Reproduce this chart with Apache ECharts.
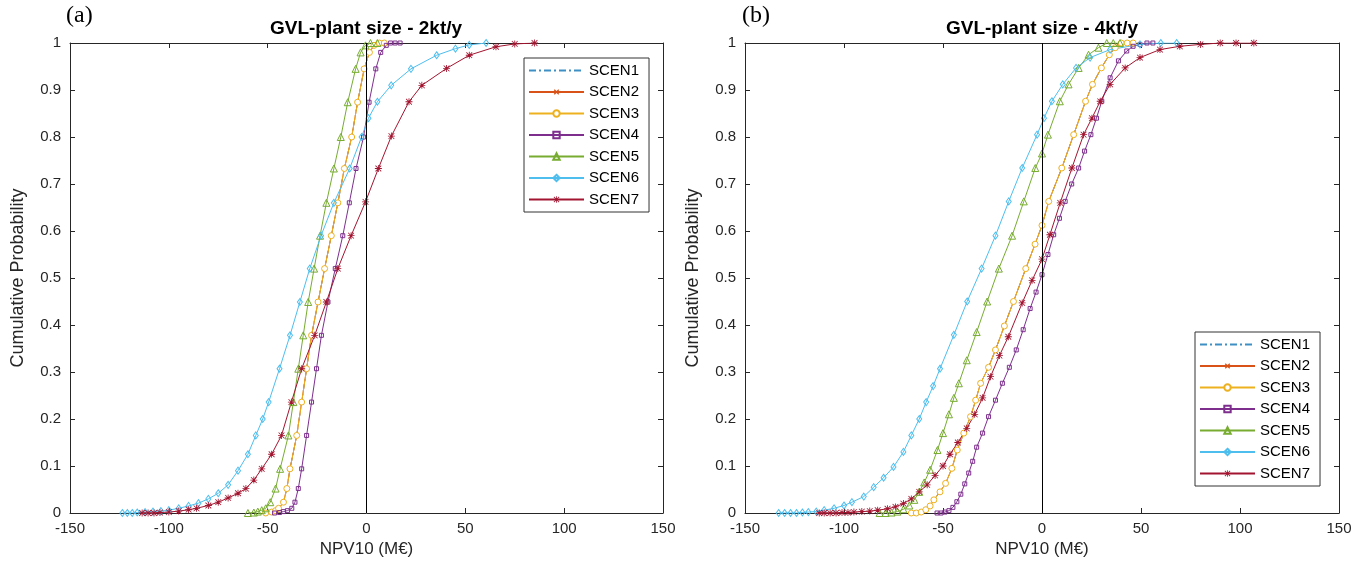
<!DOCTYPE html>
<html>
<head>
<meta charset="utf-8">
<script src="https://cdn.jsdelivr.net/npm/echarts@6/dist/echarts.min.js"></script>
<style>
html, body { margin: 0; padding: 0; background: #fff; }
#chart { width: 1372px; height: 576px; }
</style>
</head>
<body>
<div id="chart"></div>
<script>
// points are [NPV10 (M€), cumulative probability]
var scenNames = ['SCEN1', 'SCEN2', 'SCEN3', 'SCEN4', 'SCEN5', 'SCEN6', 'SCEN7'];

// (a) GVL-plant size - 2kt/y
var scen3_2kt = [[-51,0],[-48,0.002],[-46,0.005],[-44.5,0.01],[-42,0.023],[-40.3,0.052],[-38.7,0.094],[-35.3,0.165],[-32.8,0.236],[-30.3,0.307],[-27.8,0.378],[-24.5,0.449],[-21.2,0.52],[-17.8,0.59],[-14.5,0.66],[-11.2,0.733],[-7.5,0.8],[-4.5,0.874],[-1.2,0.945],[1.5,0.98],[3.8,0.995],[6.5,1],[9,1]];
// SCEN1 and SCEN2 lie under SCEN3 in the figure
var scen1_2kt = scen3_2kt;
var scen2_2kt = scen3_2kt;
var scen4_2kt = [[-46.5,0],[-44,0.001],[-42,0.003],[-40,0.005],[-37.8,0.01],[-36.2,0.023],[-34.5,0.052],[-32.8,0.094],[-30.3,0.165],[-27.8,0.236],[-25.3,0.307],[-22.8,0.378],[-19.5,0.449],[-15.8,0.52],[-12,0.59],[-8.7,0.66],[-5.3,0.733],[-1.5,0.8],[1.3,0.874],[4.7,0.945],[7.2,0.98],[10,0.995],[12.2,1],[14.5,1],[17,1]];
var scen5_2kt = [[-60,0],[-57,0.001],[-55,0.003],[-53,0.006],[-51,0.01],[-48.7,0.023],[-46,0.052],[-43.7,0.094],[-39.5,0.165],[-37,0.236],[-34.5,0.307],[-32,0.378],[-29.5,0.449],[-26.5,0.52],[-23.5,0.59],[-20.3,0.66],[-16.5,0.733],[-13,0.8],[-9.5,0.874],[-5.5,0.945],[-3,0.98],[-0.5,0.995],[2,1],[5.5,1]];
var scen6_2kt = [[-123.5,0],[-121,0],[-118.5,0],[-116,0.001],[-112,0.002],[-108,0.003],[-104,0.004],[-100,0.006],[-95,0.01],[-90,0.015],[-85,0.021],[-80,0.03],[-75,0.042],[-70,0.06],[-65,0.09],[-60,0.125],[-56,0.165],[-52.5,0.2],[-49.5,0.236],[-44,0.307],[-38.7,0.378],[-33.7,0.449],[-28.7,0.52],[-23,0.59],[-16.5,0.66],[-8.5,0.733],[-2.5,0.8],[1,0.84],[5.5,0.875],[12.5,0.91],[22.5,0.945],[35.5,0.974],[45,0.988],[52,0.996],[60.5,1]];
var scen7_2kt = [[-113.5,0],[-110.5,0],[-107.5,0],[-104.5,0.001],[-100,0.002],[-95,0.004],[-90,0.007],[-86,0.01],[-80,0.016],[-75,0.023],[-70,0.032],[-65,0.042],[-61,0.052],[-57,0.07],[-53,0.094],[-48,0.125],[-43,0.165],[-38,0.236],[-32.8,0.307],[-26.2,0.378],[-20.3,0.449],[-14.5,0.52],[-7.8,0.59],[-0.5,0.662],[6,0.733],[12.6,0.802],[21.5,0.875],[28,0.91],[40.5,0.946],[52,0.974],[65.5,0.992],[75,0.998],[85,1]];

// (b) GVL-plant size - 4kt/y
var scen3_4kt = [[-66,0],[-63.5,0],[-61,0.002],[-58.7,0.007],[-56.5,0.015],[-54.6,0.028],[-51.5,0.045],[-48.7,0.063],[-45.5,0.095],[-42.8,0.134],[-39.5,0.17],[-36.1,0.205],[-33.5,0.24],[-31,0.276],[-27,0.31],[-23.5,0.347],[-19,0.398],[-14.4,0.45],[-8.2,0.52],[-3.5,0.572],[0,0.612],[3.4,0.663],[10,0.734],[16,0.805],[22,0.876],[25.5,0.912],[30,0.947],[34,0.975],[37,0.99],[40,1],[43,1],[46,1]];
var scen1_4kt = scen3_4kt;
var scen2_4kt = scen3_4kt;
var scen4_4kt = [[-53,0],[-51,0],[-49,0.002],[-47,0.005],[-45,0.012],[-43,0.024],[-41,0.04],[-39,0.062],[-37,0.085],[-35,0.11],[-33,0.14],[-30,0.17],[-27,0.205],[-23.5,0.24],[-20,0.276],[-16.5,0.31],[-13,0.347],[-9.5,0.39],[-6,0.435],[-3,0.47],[0,0.507],[3,0.55],[5.9,0.592],[8.8,0.627],[11.7,0.663],[15,0.7],[18.5,0.734],[21.5,0.77],[24.7,0.805],[27.5,0.84],[30.2,0.876],[34.4,0.926],[38.6,0.962],[42.8,0.983],[46,0.993],[49.5,0.997],[53,1],[56,1]];
var scen5_4kt = [[-82,0],[-79,0],[-76,0.001],[-73,0.003],[-70,0.008],[-67,0.016],[-64.5,0.028],[-62,0.045],[-59.5,0.065],[-56.5,0.092],[-52.8,0.134],[-50,0.17],[-47,0.21],[-44.5,0.245],[-42,0.276],[-38,0.325],[-33,0.385],[-27.7,0.45],[-21.8,0.52],[-15.1,0.59],[-9.2,0.663],[-3.4,0.734],[0,0.765],[3,0.805],[9,0.876],[13.4,0.912],[18.5,0.947],[23.5,0.975],[28.5,0.99],[32.7,1],[36,1],[39.4,1]];
var scen6_4kt = [[-133,0],[-130,0],[-127,0],[-124,0],[-121,0.001],[-118,0.002],[-114,0.003],[-110,0.006],[-105,0.01],[-100,0.016],[-96,0.023],[-90,0.035],[-85,0.055],[-80,0.075],[-75,0.098],[-70,0.13],[-66,0.165],[-62,0.2],[-58.5,0.236],[-55,0.27],[-51.5,0.307],[-44.5,0.379],[-37.8,0.45],[-30.5,0.52],[-23.5,0.59],[-16.8,0.663],[-10,0.734],[-2.5,0.805],[1,0.84],[5,0.876],[10.5,0.912],[17.2,0.947],[24.3,0.969],[34.4,0.986],[49.5,0.997],[60,1],[68,1]];
var scen7_4kt = [[-112.5,0],[-110,0],[-107,0],[-104,0],[-101,0.001],[-98,0.001],[-95,0.002],[-91,0.003],[-87,0.004],[-83,0.006],[-78,0.009],[-74,0.013],[-70,0.02],[-66,0.03],[-62,0.045],[-58,0.06],[-54,0.08],[-50,0.1],[-46.5,0.125],[-42.5,0.15],[-38,0.18],[-34,0.21],[-30,0.245],[-26,0.29],[-21.5,0.335],[-17,0.375],[-10,0.447],[-5,0.495],[0,0.54],[4,0.592],[9.2,0.66],[15.1,0.734],[21,0.805],[25.2,0.84],[29.4,0.876],[34.4,0.912],[42,0.947],[49.5,0.969],[59.6,0.986],[69.6,0.993],[80,0.997],[90,1],[98,1],[107,1]];

var data2kt = [scen1_2kt, scen2_2kt, scen3_2kt, scen4_2kt, scen5_2kt, scen6_2kt, scen7_2kt];
var data4kt = [scen1_4kt, scen2_4kt, scen3_4kt, scen4_4kt, scen5_4kt, scen6_4kt, scen7_4kt];

var plus = 'path://M4,0L6,0L6,4L10,4L10,6L6,6L6,10L4,10L4,6L0,6L0,4L4,4Z';
var star = 'path://M4.4,0L5.6,0L5.6,4.4L10,4.4L10,5.6L5.6,5.6L5.6,10L4.4,10L4.4,5.6L0,5.6L0,4.4L4.4,4.4Z' +
    'M1.3,0.5L5,4.2L8.7,0.5L9.5,1.3L5.8,5L9.5,8.7L8.7,9.5L5,5.8L1.3,9.5L0.5,8.7L4.2,5L0.5,1.3Z';
var styles = {
    SCEN1: { color: '#3F8FC4', symbol: 'none', size: 0, dash: [7, 3, 2, 3], invisible: true },
    SCEN2: { color: '#D95319', symbol: plus, size: 5, rotate: 45 },
    SCEN3: { color: '#EDB120', symbol: 'circle', size: 6, hollow: true, fill: '#fff' },
    SCEN4: { color: '#7E2F8E', symbol: 'rect', size: 4, hollow: true },
    SCEN5: { color: '#77AC30', symbol: 'triangle', size: 7, hollow: true },
    SCEN6: { color: '#4DBEEE', symbol: 'diamond', size: [5, 7], hollow: true },
    SCEN7: { color: '#A2142F', symbol: star, size: 7 }
};

var axisColor = '#262626';
var font = 'Liberation Sans, Arial, sans-serif';

function makeSeries(name, data, idx) {
    var st = styles[name];
    var item;
    if (st.invisible) {
        item = { color: 'rgba(0,0,0,0)', borderWidth: 0 };
    } else if (st.hollow) {
        item = { color: st.fill || 'rgba(255,255,255,0)', borderColor: st.color, borderWidth: 1 };
    } else {
        item = { color: st.color, borderWidth: 0 };
    }
    return {
        name: name,
        type: 'line',
        xAxisIndex: idx,
        yAxisIndex: idx,
        data: data,
        symbol: st.symbol,
        symbolSize: st.size,
        symbolRotate: st.rotate || 0,
        showAllSymbol: true,
        clip: true,
        lineStyle: { color: st.color, width: 1, type: st.dash || 'solid' },
        itemStyle: item,
        emphasis: { disabled: true }
    };
}

function zeroLine(idx) {
    return {
        type: 'line',
        xAxisIndex: idx,
        yAxisIndex: idx,
        data: [],
        silent: true,
        markLine: {
            silent: true,
            symbol: ['none', 'none'],
            label: { show: false },
            lineStyle: { color: '#000', width: 1, type: 'solid' },
            data: [{ xAxis: 0 }]
        }
    };
}

function xAxes(grid) {
    return [{
        type: 'value', gridIndex: grid, min: -150, max: 150, interval: 50,
        name: 'NPV10 (M€)', nameLocation: 'middle', nameGap: 27,
        nameTextStyle: { fontSize: 17, color: axisColor, fontFamily: font },
        axisLine: { onZero: false, lineStyle: { color: axisColor, width: 1 } },
        axisTick: { inside: true, length: 5, lineStyle: { color: axisColor } },
        axisLabel: { fontSize: 15, color: axisColor, fontFamily: font, margin: 8 },
        splitLine: { show: false }
    }, {
        type: 'value', gridIndex: grid, position: 'top', min: -150, max: 150, interval: 50,
        axisLine: { onZero: false, lineStyle: { color: axisColor, width: 1 } },
        axisTick: { inside: true, length: 5, lineStyle: { color: axisColor } },
        axisLabel: { show: false },
        splitLine: { show: false }
    }];
}

function yAxes(grid) {
    return [{
        type: 'value', gridIndex: grid, min: 0, max: 1, interval: 0.1,
        name: 'Cumulative Probability', nameLocation: 'middle', nameGap: 43,
        nameTextStyle: { fontSize: 18, color: axisColor, fontFamily: font },
        axisLine: { show: true, onZero: false, lineStyle: { color: axisColor, width: 1 } },
        axisTick: { show: true, inside: true, length: 5, lineStyle: { color: axisColor } },
        axisLabel: { fontSize: 15, color: axisColor, fontFamily: font, margin: 9 },
        splitLine: { show: false }
    }, {
        type: 'value', gridIndex: grid, position: 'right', min: 0, max: 1, interval: 0.1,
        axisLine: { show: true, onZero: false, lineStyle: { color: axisColor, width: 1 } },
        axisTick: { show: true, inside: true, length: 5, lineStyle: { color: axisColor } },
        axisLabel: { show: false },
        splitLine: { show: false }
    }];
}

function legendAt(left, top) {
    return {
        orient: 'vertical', left: left, top: top,
        data: scenNames, selectedMode: false,
        backgroundColor: '#fff',
        borderColor: '#333', borderWidth: 1,
        padding: [5, 10, 5, 4],
        itemWidth: 55, itemHeight: 8, itemGap: 6.5,
        textStyle: { fontSize: 15, color: '#000', fontFamily: font }
    };
}

var series = [];
scenNames.forEach(function (name, i) {
    series.push(makeSeries(name, data2kt[i], 0));
});
series.push(zeroLine(0));
scenNames.forEach(function (name, i) {
    series.push(makeSeries(name, data4kt[i], 2));
});
series.push(zeroLine(2));

var chart = echarts.init(document.getElementById('chart'), null, { renderer: 'canvas' });
var option = {
    backgroundColor: '#fff',
    animation: false,
    grid: [
        { left: 70, top: 43, width: 593, height: 470 },
        { left: 745, top: 43, width: 594, height: 470 }
    ],
    xAxis: xAxes(0).concat(xAxes(1)),
    yAxis: yAxes(0).concat(yAxes(1)),
    legend: [legendAt(524, 58), legendAt(1195, 332)],
    graphic: [
        { type: 'text', left: 66, top: 4, style: { text: '(a)', fontSize: 24, fontFamily: 'Liberation Serif, serif', fill: '#000' } },
        { type: 'text', x: 366, y: 29, style: { text: 'GVL-plant size - 2kt/y', fontSize: 19, fontWeight: 'bold', fontFamily: font, fill: '#000', align: 'center', verticalAlign: 'middle' } },
        { type: 'text', left: 742, top: 4, style: { text: '(b)', fontSize: 24, fontFamily: 'Liberation Serif, serif', fill: '#000' } },
        { type: 'text', x: 1042, y: 29, style: { text: 'GVL-plant size - 4kt/y', fontSize: 19, fontWeight: 'bold', fontFamily: font, fill: '#000', align: 'center', verticalAlign: 'middle' } }
    ],
    series: series
};
chart.setOption(option);
</script>
</body>
</html>
